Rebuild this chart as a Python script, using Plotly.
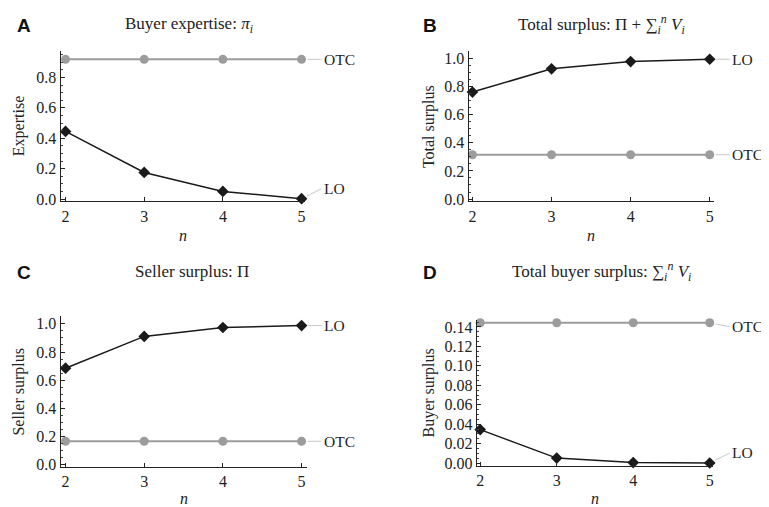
import plotly.graph_objects as go

n_vals = [2, 3, 4, 5]

# Panel A: buyer expertise
expertise_otc = [0.919, 0.919, 0.919, 0.919]
expertise_lo = [0.445, 0.175, 0.050, 0.002]

# Panel B: total surplus
total_otc = [0.315, 0.315, 0.315, 0.315]
total_lo = [0.760, 0.925, 0.977, 0.993]

# Panel C: seller surplus
seller_otc = [0.166, 0.166, 0.166, 0.166]
seller_lo = [0.685, 0.911, 0.974, 0.988]

# Panel D: total buyer surplus
buyer_otc = [0.1443, 0.1443, 0.1443, 0.1443]
buyer_lo = [0.0345, 0.0052, 0.0006, 0.0002]

W, H = 769, 507
SERIF = "Liberation Serif, Times New Roman, serif"
SANS = "Liberation Sans, Arial, sans-serif"
OTC_COLOR = "#9c9c9c"
LO_COLOR = "#1a1a1a"
LEADER = "#c8c8c8"
TXT = "#222222"


def px(x):
    return x / W


def py(y):
    return 1 - y / H


panels = [
    dict(key="", data_otc=expertise_otc, data_lo=expertise_lo,
         xdom=(51.7, 296.7), ydom=(42.7, 195), yrange=[-0.015, 0.973],
         xrange=[1.937, 5.043],
         dtick=0.2, minor=0.05, fmt=".1f", ytitle="Expertise",
         title="Buyer expertise: <i>π<sub>i</sub></i>", letter="A",
         title_xy=(180, 16), letter_xy=(15, 17), ytitle_x=10, xtitle_y=230,
         lbl_otc=0, lbl_lo=-10),
    dict(key="2", data_otc=total_otc, data_lo=total_lo,
         xdom=(460.7, 707.3), ydom=(42.7, 195), yrange=[-0.016, 1.051],
         xrange=[1.95, 5.06],
         dtick=0.2, minor=0.05, fmt=".1f", ytitle="Total surplus",
         title="Total surplus: Π + ∑<sub><i>i</i></sub><sup><i>n</i></sup> <i>V<sub>i</sub></i>", letter="B",
         title_xy=(594, 16), letter_xy=(422, 17), ytitle_x=421, xtitle_y=230,
         lbl_otc=0, lbl_lo=0),
    dict(key="3", data_otc=seller_otc, data_lo=seller_lo,
         xdom=(51.7, 298.3), ydom=(311.7, 464.3), yrange=[-0.016, 1.053],
         xrange=[1.937, 5.063],
         dtick=0.2, minor=0.05, fmt=".1f", ytitle="Seller surplus",
         title="Seller surplus: Π", letter="C",
         title_xy=(183, 266), letter_xy=(15, 267), ytitle_x=10, xtitle_y=496,
         lbl_otc=0, lbl_lo=0),
    dict(key="4", data_otc=buyer_otc, data_lo=buyer_lo,
         xdom=(469, 706), ydom=(315, 463), yrange=[-0.0025, 0.1475],
         xrange=[1.955, 5.045],
         dtick=0.02, minor=0.005, fmt=".2f", ytitle="Buyer surplus",
         title="Total buyer surplus: ∑<sub><i>i</i></sub><sup><i>n</i></sup> <i>V<sub>i</sub></i>", letter="D",
         title_xy=(594, 266), letter_xy=(422, 267), ytitle_x=421, xtitle_y=496,
         lbl_otc=4, lbl_lo=-10),
]

fig = go.Figure()
annotations = []
layout_axes = {}

for p in panels:
    k = p["key"]
    xa = "x" + k
    ya = "y" + k
    fig.add_trace(go.Scatter(
        x=n_vals, y=p["data_otc"], xaxis=xa, yaxis=ya, mode="lines+markers",
        line=dict(color=OTC_COLOR, width=2),
        marker=dict(symbol="circle", size=9, color=OTC_COLOR),
        showlegend=False, cliponaxis=False, hoverinfo="skip"))
    fig.add_trace(go.Scatter(
        x=n_vals, y=p["data_lo"], xaxis=xa, yaxis=ya, mode="lines+markers",
        line=dict(color=LO_COLOR, width=1.5),
        marker=dict(symbol="diamond", size=9, color=LO_COLOR),
        showlegend=False, cliponaxis=False, hoverinfo="skip"))

    x0, x1 = p["xdom"]
    y0, y1 = p["ydom"]
    layout_axes["xaxis" + k] = dict(
        domain=[px(x0), px(x1)], anchor=ya, range=p["xrange"],
        tickvals=n_vals, ticktext=[str(v) for v in n_vals],
        ticks="inside", ticklen=4, tickcolor=TXT,
        showline=True, linecolor=TXT, linewidth=1, showgrid=False,
        zeroline=False, tickfont=dict(family=SERIF, size=16, color=TXT),
        fixedrange=True)
    layout_axes["yaxis" + k] = dict(
        domain=[py(y1), py(y0)], anchor=xa, range=p["yrange"],
        dtick=p["dtick"], tick0=0, tickformat=p["fmt"], ticks="inside",
        ticklen=4, tickcolor=TXT,
        minor=dict(dtick=p["minor"], ticks="inside", ticklen=2, tickcolor="#444"),
        showline=True, linecolor=TXT, linewidth=1, showgrid=False,
        zeroline=False, tickfont=dict(family=SERIF, size=16, color=TXT),
        fixedrange=True)

    # curve labels with leader lines
    last_x = n_vals[-1]
    for name, series, off in (("OTC", p["data_otc"], p["lbl_otc"]),
                              ("LO", p["data_lo"], p["lbl_lo"])):
        annotations.append(dict(
            x=last_x, y=series[-1], xref=xa, yref=ya, text=name,
            showarrow=True, arrowhead=0, arrowwidth=1, arrowcolor=LEADER,
            ax=20, ay=off, standoff=6, xanchor="left",
            font=dict(family=SERIF, size=15.5, color=TXT)))

    # titles and letters
    tx, ty = p["title_xy"]
    annotations.append(dict(x=px(tx), y=py(ty), xref="paper", yref="paper",
                            text=p["title"], showarrow=False,
                            xanchor="center", yanchor="middle",
                            font=dict(family=SERIF, size=17, color=TXT)))
    lx, ly = p["letter_xy"]
    annotations.append(dict(x=px(lx), y=py(ly), xref="paper", yref="paper",
                            text="<b>" + p["letter"] + "</b>", showarrow=False,
                            xanchor="center", yanchor="middle",
                            font=dict(family=SANS, size=19, color="#111")))
    # axis titles
    annotations.append(dict(x=px((x0 + x1) / 2), y=py(p["xtitle_y"]),
                            xref="paper", yref="paper", text="<i>n</i>",
                            showarrow=False, xanchor="center", yanchor="middle",
                            font=dict(family=SERIF, size=16, color=TXT)))
    annotations.append(dict(x=px(p["ytitle_x"]), y=py((y0 + y1) / 2),
                            xref="paper", yref="paper", text=p["ytitle"],
                            showarrow=False, textangle=-90,
                            xanchor="center", yanchor="middle",
                            font=dict(family=SERIF, size=16, color=TXT)))

fig.update_layout(
    width=W, height=H, margin=dict(l=0, r=0, t=0, b=0),
    paper_bgcolor="white", plot_bgcolor="white",
    font=dict(family=SERIF, size=16, color=TXT),
    annotations=annotations, **layout_axes)

fig.write_html("out.html")
